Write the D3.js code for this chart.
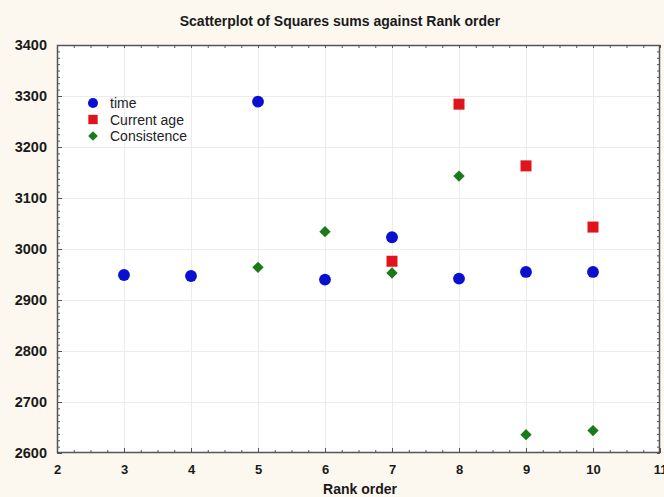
<!DOCTYPE html>
<html>
<head>
<meta charset="utf-8">
<script src="https://cdn.jsdelivr.net/npm/d3@7"></script>
<style>
  html, body { margin: 0; padding: 0; background: #fcf8ef; }
  svg { display: block; }
  text { font-family: "Liberation Sans", Arial, sans-serif; }
</style>
</head>
<body>
<svg id="chart" width="664" height="497"></svg>
<script>
// ---- data ----
const timeX = [3, 4, 5, 6, 7, 8, 9, 10];
const timeY = [2949, 2947, 3289, 2940, 3023, 2942, 2955, 2955];
const ageX = [7, 8, 9, 10];
const ageY = [2976, 3284, 3163, 3043];
const consX = [5, 6, 7, 8, 9, 10];
const consY = [2964, 3034, 2953, 3143, 2636, 2644];
const xTicks = [2, 3, 4, 5, 6, 7, 8, 9, 10, 11];
const yTicks = [2600, 2700, 2800, 2900, 3000, 3100, 3200, 3300, 3400];
const seriesNames = ["time", "Current age", "Consistence"];
const seriesColors = ["#0a10d0", "#e0141c", "#1a7a1a"];
const titleText = "Scatterplot of Squares sums against Rank order";
const xTitle = "Rank order";

// ---- layout ----
const svg = d3.select("#chart");
const pL = 57, pR = 660, pT = 45, pB = 453;
const x = d3.scaleLinear().domain([2, 11]).range([pL, pR]);
const y = d3.scaleLinear().domain([2600, 3400]).range([pB, pT]);

// plot background
svg.append("rect").attr("x", pL).attr("y", pT)
  .attr("width", pR - pL).attr("height", pB - pT).attr("fill", "#ffffff");

// gridlines
const grid = svg.append("g").attr("stroke", "#ececec").attr("stroke-width", 1);
xTicks.slice(1, -1).forEach(t => grid.append("line")
  .attr("x1", Math.round(x(t)) + 0.5).attr("x2", Math.round(x(t)) + 0.5)
  .attr("y1", pT).attr("y2", pB));
yTicks.slice(1, -1).forEach(t => grid.append("line")
  .attr("y1", Math.round(y(t)) + 0.5).attr("y2", Math.round(y(t)) + 0.5)
  .attr("x1", pL).attr("x2", pR));

// minor ticks
const xMinor = d3.range(2, 11.001, 0.25);
const yMinor = d3.range(2600, 3400.001, 12.5);
const tickColor = "#555";

function axisG(gen, tr) {
  const g = svg.append("g").attr("transform", tr).call(gen);
  g.select(".domain").remove();
  g.selectAll("line").attr("stroke", tickColor);
  return g;
}
axisG(d3.axisBottom(x).tickValues(xMinor).tickSize(-3).tickFormat(""), `translate(0,${pB})`);
axisG(d3.axisTop(x).tickValues(xMinor).tickSize(-3).tickFormat(""), `translate(0,${pT})`);
axisG(d3.axisLeft(y).tickValues(yMinor).tickSize(-3).tickFormat(""), `translate(${pL},0)`);
axisG(d3.axisRight(y).tickValues(yMinor).tickSize(-3).tickFormat(""), `translate(${pR},0)`);

// major labels
const xl = svg.append("g").attr("transform", `translate(0,${pB})`)
  .call(d3.axisBottom(x).tickValues(xTicks).tickSize(-5).tickPadding(12).tickFormat(d3.format("d")));
xl.select(".domain").remove();
xl.selectAll("line").attr("stroke", tickColor);
xl.selectAll("text").attr("font-size", 13).attr("font-weight", "bold").attr("fill", "#1a1a1a")
  .attr("font-family", "Liberation Sans, Arial, sans-serif");

const yl = svg.append("g").attr("transform", `translate(${pL},0)`)
  .call(d3.axisLeft(y).tickValues(yTicks).tickSize(-5).tickPadding(10).tickFormat(d3.format("d")));
yl.select(".domain").remove();
yl.selectAll("line").attr("stroke", tickColor);
yl.selectAll("text").attr("font-size", 14.5).attr("font-weight", "bold").attr("fill", "#1a1a1a")
  .attr("font-family", "Liberation Sans, Arial, sans-serif");

// frame
svg.append("rect").attr("x", pL + 0.5).attr("y", pT + 0.5)
  .attr("width", pR - pL - 1).attr("height", pB - pT - 1)
  .attr("fill", "none").attr("stroke", "#555").attr("stroke-width", 1.5);

// titles
svg.append("text").attr("x", 340).attr("y", 26).attr("text-anchor", "middle")
  .attr("font-size", 14).attr("font-weight", "bold").attr("fill", "#1a1a1a").text(titleText);
svg.append("text").attr("x", 360).attr("y", 494).attr("text-anchor", "middle")
  .attr("font-size", 14).attr("font-weight", "bold").attr("fill", "#1a1a1a").text(xTitle);

// markers
const symCircle = d3.symbol().type(d3.symbolCircle).size(110);
const symSquare = d3.symbol().type(d3.symbolSquare).size(121);
const symDiamond = d3.symbol().type(d3.symbolSquare).size(64);
const syms = [symCircle, symSquare, symDiamond];
const rots = ["", "", " rotate(45)"];
const series = [[timeX, timeY], [ageX, ageY], [consX, consY]];
series.forEach(([xs, ys], i) => {
  svg.append("g").selectAll("path").data(xs.map((d, j) => [d, ys[j]])).join("path")
    .attr("d", syms[i])
    .attr("transform", d => `translate(${x(d[0])},${y(d[1])})${rots[i]}`)
    .attr("fill", seriesColors[i]);
});

// legend
const lg = svg.append("g").attr("transform", "translate(93,103)");
seriesNames.forEach((n, i) => {
  const row = lg.append("g").attr("transform", `translate(0,${i * 16.5})`);
  row.append("path").attr("d", syms[i]).attr("fill", seriesColors[i])
    .attr("transform", "scale(0.85)" + rots[i]);
  row.append("text").attr("x", 17).attr("y", 5).attr("font-size", 14)
    .attr("fill", "#222").text(n);
});
</script>
</body>
</html>
